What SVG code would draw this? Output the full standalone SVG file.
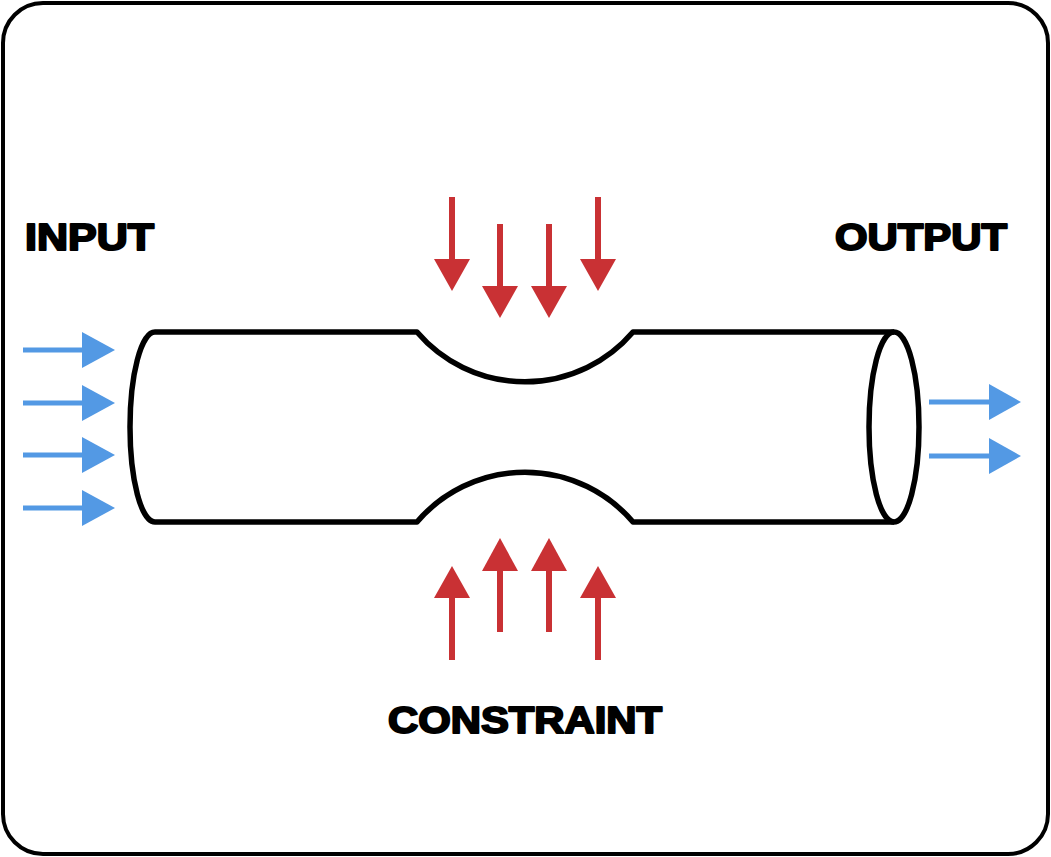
<svg xmlns="http://www.w3.org/2000/svg" width="1051" height="857" viewBox="0 0 1051 857">
<defs>
<style>
.lbl{font-family:"Liberation Sans",Arial,sans-serif;font-weight:bold;font-size:37px;fill:#000;stroke:#000;stroke-width:2;stroke-linejoin:round}
.tube{fill:none;stroke:#000;stroke-width:5.5;stroke-linejoin:round}
.blue line{stroke:#5399e4;stroke-width:5}
.blue polygon{fill:#5399e4}
.red line{stroke:#c93134;stroke-width:6}
.red polygon{fill:#c93134}
</style>
</defs>
<rect x="3" y="3" width="1045" height="851" rx="40" ry="40" fill="#fff" stroke="#000" stroke-width="4"/>
<g id="tube">
<path class="tube" d="M155,332 L417,332 A142,142 0 0 0 633,332 L894,332"/>
<path class="tube" d="M155,522 L417,522 A142,142 0 0 1 633,522 L894,522"/>
<path class="tube" d="M155,332 A25,95 0 0 0 155,522"/>
<ellipse class="tube" cx="894" cy="427" rx="25" ry="95"/>
</g>
<g id="labels">
<text class="lbl" x="25" y="250" textLength="129" lengthAdjust="spacingAndGlyphs">INPUT</text>
<text class="lbl" x="835" y="250" textLength="172" lengthAdjust="spacingAndGlyphs">OUTPUT</text>
<text class="lbl" x="388" y="733" textLength="274" lengthAdjust="spacingAndGlyphs">CONSTRAINT</text>
</g>
<g id="connectors">
<g class="blue">
<line x1="23" y1="350" x2="84" y2="350"/><polygon points="82,332 115,350 82,368"/>
<line x1="23" y1="403" x2="84" y2="403"/><polygon points="82,385 115,403 82,421"/>
<line x1="23" y1="455" x2="84" y2="455"/><polygon points="82,437 115,455 82,473"/>
<line x1="23" y1="508" x2="84" y2="508"/><polygon points="82,490 115,508 82,526"/>
<line x1="929" y1="402" x2="991" y2="402"/><polygon points="989,384 1021,402 989,420"/>
<line x1="929" y1="456" x2="991" y2="456"/><polygon points="989,438 1021,456 989,474"/>
</g>
<g class="red">
<line x1="452" y1="197" x2="452" y2="261"/><polygon points="434,259 470,259 452,291"/>
<line x1="500" y1="224" x2="500" y2="288"/><polygon points="482,286 518,286 500,318"/>
<line x1="549" y1="224" x2="549" y2="288"/><polygon points="531,286 567,286 549,318"/>
<line x1="598" y1="197" x2="598" y2="261"/><polygon points="580,259 616,259 598,291"/>
<line x1="452" y1="660" x2="452" y2="596"/><polygon points="434,598 470,598 452,566"/>
<line x1="500" y1="632" x2="500" y2="569"/><polygon points="482,571 518,571 500,538"/>
<line x1="549" y1="632" x2="549" y2="569"/><polygon points="531,571 567,571 549,538"/>
<line x1="598" y1="660" x2="598" y2="596"/><polygon points="580,598 616,598 598,566"/>
</g>
</g>
</svg>
